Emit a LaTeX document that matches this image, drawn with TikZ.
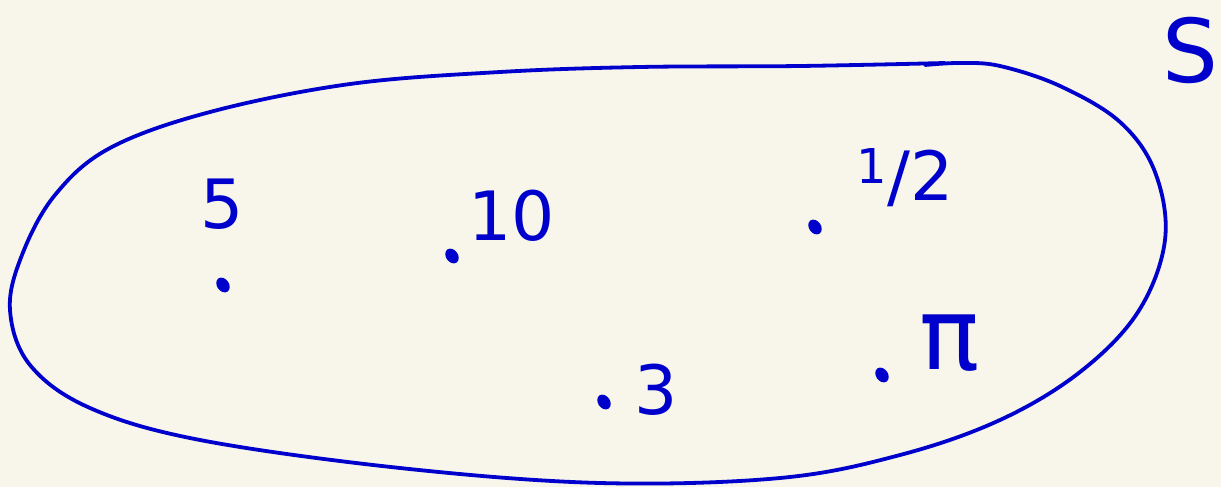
\documentclass[tikz,border=0pt]{standalone}
\usepackage{fontspec}
\setmainfont{DejaVu Sans}
\usetikzlibrary{shapes.geometric}
\begin{document}
\begin{tikzpicture}[x=0.5pt,y=-0.5pt,
  ink/.style={draw=inkblue,line width=1.9pt,line cap=round,line join=round},
  pt/.style={ellipse,fill=inkblue,minimum width=6pt,minimum height=8pt,inner sep=0pt,rotate=35},
  lbl/.style={text=inkblue,font=\fontsize{34}{36}\selectfont,inner sep=0pt}]
\definecolor{inkblue}{HTML}{0000CC}
\definecolor{paper}{HTML}{F8F6EA}
\fill[paper] (0,0) rectangle (1221,487);
\useasboundingbox (0,0) rectangle (1221,487);
% the set
\draw[ink] plot[smooth, tension=0.6] coordinates {
 (945,63) (800,66) (640,67) (500,72) (350,84) (210,112) (110,148) (55,195) (22,255) (10,310)
 (30,365) (90,408) (200,440) (400,468) (600,483) (780,478) (900,455) (1000,420)
 (1080,372) (1138,312) (1165,240) (1155,172) (1120,122) (1060,86) (1000,66) (960,63) (925,65)};
% points
\node[pt] (p5) at (223,285) {};
\node[pt] (p10) at (452,256) {};
\node[pt] (phalf) at (815,227) {};
\node[pt] (p3) at (604,402) {};
\node[pt] (ppi) at (882,375) {};
% labels
\node[lbl] (l5) at (222,204) {5};
\node[lbl] (l10) at (512,216) {10};
\node[lbl] (lhalf) at (905,178) {\raisebox{0.45ex}{\fontsize{24}{26}\selectfont 1}/2};
\node[lbl] (l3) at (656,390) {3};
\node[lbl,font=\fontsize{50}{52}\selectfont] (lpi) at (950,343) {π};
\node[lbl,font=\fontsize{44}{46}\selectfont] (S) at (1190,50) {S};
\end{tikzpicture}
\end{document}
